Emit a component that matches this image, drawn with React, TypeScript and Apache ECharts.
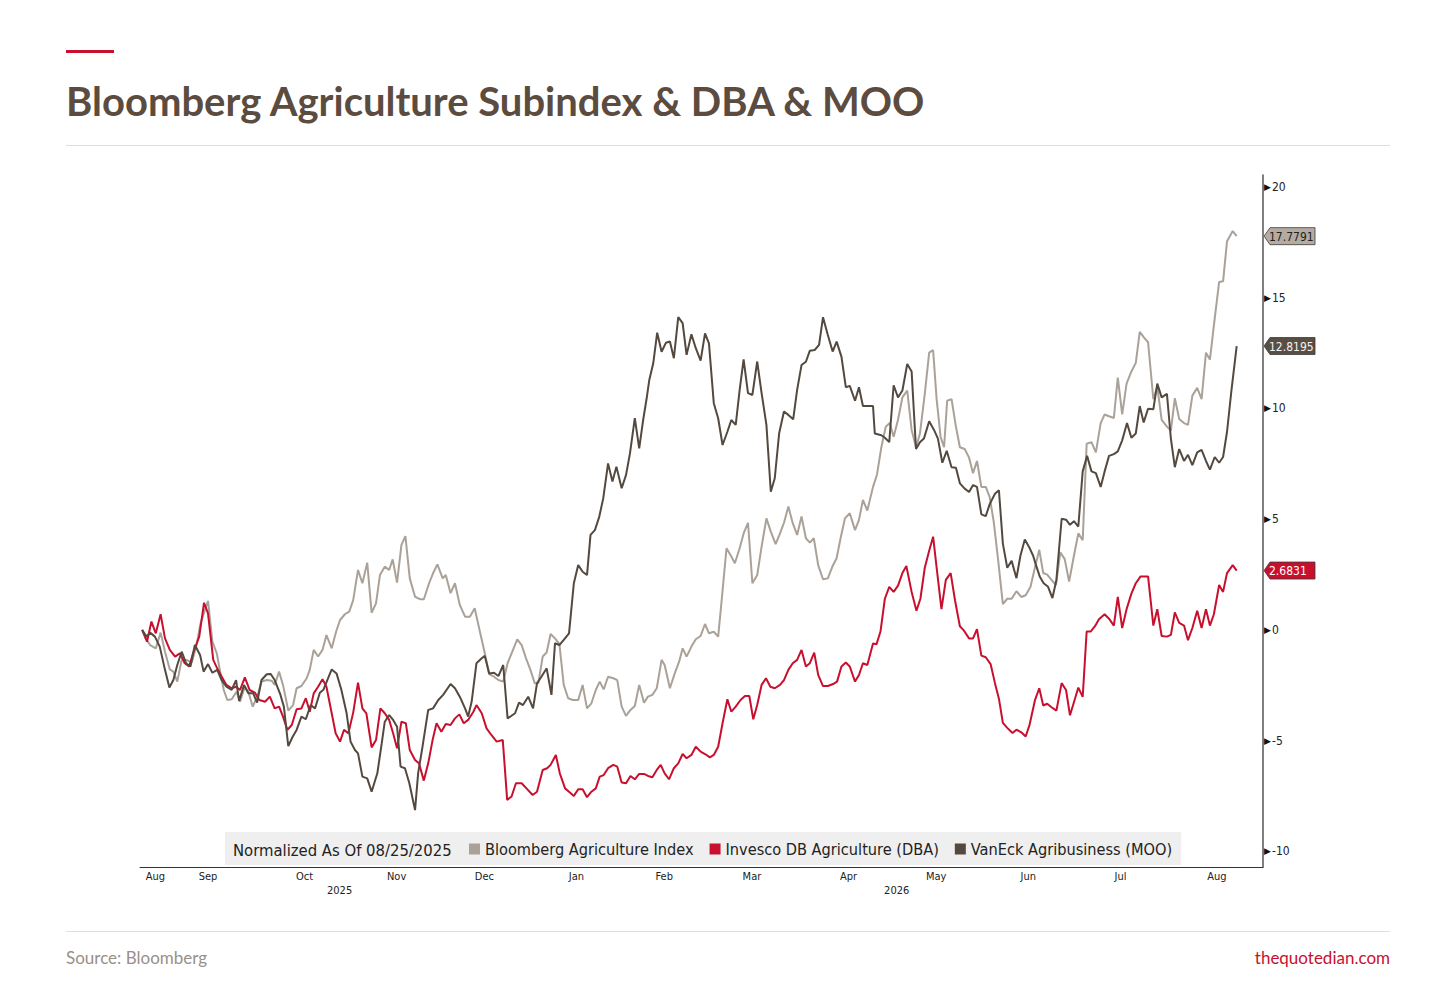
import React, { useEffect, useRef } from 'react';
import * as echarts from 'echarts';

const chartTitle = 'Bloomberg Agriculture Subindex & DBA & MOO';
const legendNote = 'Normalized As Of 08/25/2025';
const seriesNames = ['Bloomberg Agriculture Index', 'Invesco DB Agriculture (DBA)', 'VanEck Agribusiness (MOO)'];
const seriesColors = ['#aaa198', '#c8102e', '#54493f'];
const tagFills = ['#b5aba1', '#c8102e', '#5a4e44'];
const tagTexts = ['#222222', '#ffffff', '#f2f2f2'];

// x axis: trading-day index from 08/25/2025
const dayCount = 256;
const monthStarts = [5, 26, 49, 68, 90, 110, 129, 151, 172, 192, 213, 235];
const monthLabelAt = [3, 15, 37, 58, 78, 99, 119, 139, 161, 181, 202, 223, 245];
const monthLabels = ['Aug', 'Sep', 'Oct', 'Nov', 'Dec', 'Jan', 'Feb', 'Mar', 'Apr', 'May', 'Jun', 'Jul', 'Aug'];
const yearLabelAt = [45, 172];
const yearLabels = ['2025', '2026'];
const yearBreak = 90;
const yTicks = [-10, -5, 0, 5, 10, 15, 20];

// [trading day, % change]
const agri: [number, number][] = [
  [0, 0], [0.8, -0.38], [1.8, -0.68], [3.1, -0.83], [4.2, -0.12], [5.2, -0.98], [6.3, -1.78], [7.1, -1.88],
  [8, -2.33], [9, -1.35], [10.1, -1.35], [11.3, -1.47], [12.4, -0.68], [13.3, 0.3], [14.3, 0.9], [15, 1.31],
  [16, -0.53], [17, -1.05], [17.7, -1.8], [18.6, -2.71], [19.4, -3.16], [20.4, -3.13], [21.5, -2.79], [22.3, -3.24],
  [23.4, -2.56], [24.2, -2.79], [25.2, -3.46], [26.2, -3.01], [27.2, -2.33], [28.4, -2.26], [29.5, -2.29], [30.2, -2.48],
  [31.2, -1.88], [32.1, -2.48], [33.3, -3.64], [34.4, -3.39], [35.2, -2.63], [36.3, -2.53], [37.5, -2.18], [38.2, -1.8],
  [39.1, -0.9], [40.1, -1.2], [41.1, -0.9], [42, -0.23], [43.2, -0.83], [44.2, -0.08], [45.1, 0.45], [46.2, 0.71],
  [47.2, 0.83], [48.1, 1.35], [49.2, 2.71], [50.2, 2.11], [51.3, 3.04], [52.3, 0.78], [53.3, 1.2], [54.2, 2.48],
  [55.3, 2.86], [56.3, 2.71], [57.1, 3.19], [58.1, 2.14], [59.1, 3.84], [60, 4.24], [61, 2.33], [62.2, 1.5],
  [63.3, 1.39], [64.2, 1.39], [65.4, 2.11], [66.3, 2.56], [67.3, 2.96], [68.5, 2.33], [69.2, 2.48], [70.3, 1.66],
  [71.3, 2.11], [72.4, 1.13], [73.6, 0.6], [74.7, 0.6], [75.8, 0.98], [76.9, 0], [78.1, -1.05], [79.1, -1.99],
  [80.2, -2.11], [81.2, -2.26], [82.3, -2.33], [83.3, -1.5], [85.5, -0.42], [86.5, -0.68], [87.5, -1.28], [88.5, -1.8],
  [89.5, -2.41], [90.3, -2.41], [91.3, -1.2], [92.2, -1.02], [93.1, -0.18], [94.1, -0.38], [95.1, -0.63], [96.1, -2.48],
  [97.1, -3.08], [98.2, -3.16], [99.4, -3.16], [100.4, -2.48], [101.4, -3.54], [102.4, -3.31], [103.4, -2.71], [104.3, -2.33],
  [105.2, -2.68], [106.2, -2.11], [107.4, -2.18], [108.3, -2.26], [109.3, -3.46], [110.3, -3.88], [111.3, -3.61], [112.3, -3.43],
  [113.3, -2.48], [114.4, -3.28], [115.3, -3.01], [116.3, -2.93], [117.3, -2.63], [118.4, -1.35], [119.1, -1.58], [120.3, -2.63],
  [121.4, -1.96], [122.4, -1.43], [123.2, -0.83], [124.1, -1.2], [125.2, -0.75], [126.2, -0.42], [127.3, -0.27], [128.3, 0.27],
  [129.2, -0.15], [130.3, -0.08], [131.3, -0.3], [132.1, 1.35], [133.2, 3.69], [134.1, 3.39], [135.1, 3.01], [136.2, 3.69],
  [137.1, 4.36], [138.1, 4.84], [139.1, 2.11], [140.2, 2.48], [141.2, 3.76], [142.3, 5.04], [143.3, 4.44], [144.4, 3.88],
  [145.4, 4.36], [146.3, 4.84], [147.3, 5.57], [148.3, 4.82], [149.3, 4.29], [150.3, 5.12], [151.3, 4.14], [152.2, 3.94],
  [153.1, 4.14], [154.1, 2.93], [155.2, 2.29], [156.3, 2.33], [157.4, 2.89], [158.3, 3.24], [159.2, 4.14], [160.2, 5.04],
  [161.3, 5.27], [162.5, 4.51], [163.4, 4.97], [164.3, 5.87], [165.3, 5.39], [166.6, 6.46], [167.5, 7.01], [168.5, 8.25],
  [169.5, 9.18], [170.4, 9.34], [171.3, 8.72], [172.3, 9.49], [173.3, 10.5], [174.4, 10.81], [175.4, 9.03], [176.4, 8.25],
  [177.3, 8.87], [178.4, 10.66], [179.4, 12.52], [180.3, 12.63], [181.1, 10.42], [182, 8.72], [182.8, 8.25], [183.5, 10.35],
  [184.5, 10.42], [185.5, 9.18], [186.4, 8.25], [187.5, 8.17], [188.5, 7.78], [189.4, 7.08], [190.3, 7.63], [191.3, 6.46],
  [192.3, 6.46], [193.2, 6.0], [194.1, 4.91], [195.1, 3.2], [196.2, 1.17], [197.2, 1.41], [198.2, 1.41], [199.3, 1.75],
  [200.4, 1.49], [201.4, 1.57], [202.5, 1.95], [203.5, 2.81], [204.5, 3.62], [205.4, 2.57], [206.3, 2.5], [207.3, 2.26],
  [208.3, 2.03], [209.3, 3.51], [210.3, 3.2], [211.3, 2.19], [212.4, 3.35], [213.4, 4.36], [214.4, 4.05], [215.3, 8.41],
  [216.4, 8.48], [217.4, 8.02], [218.5, 9.34], [219.4, 9.73], [220.4, 9.65], [221.5, 9.57], [222.4, 11.39], [223.4, 9.73],
  [224.4, 11.12], [225.5, 11.67], [226.5, 12.06], [227.4, 13.46], [228.3, 13.22], [229.3, 12.99], [230.5, 10.42], [231.4, 10.97],
  [232.4, 9.49], [233.6, 9.18], [234.5, 9.0], [235.4, 10.46], [236.4, 9.53], [237.5, 9.34], [238.4, 9.26], [239.4, 10.58],
  [240.5, 10.93], [241.5, 10.42], [242.5, 12.52], [243.4, 12.21], [244.5, 14.08], [245.5, 15.71], [246.4, 15.74], [247.3, 17.55],
  [248.6, 18.01], [249.5, 17.7791],
];

const dba: [number, number][] = [
  [0, 0], [1.1, -0.53], [2.1, 0.38], [3.1, -0.15], [4.2, 0.71], [5.2, -0.38], [6.3, -0.9], [7.5, -1.2],
  [8.6, -1.05], [9.7, -1.5], [10.7, -1.65], [11.6, -1.05], [13, -0.3], [14.1, 1.23], [15, 0.75], [16.2, -1.35],
  [17.1, -1.73], [18.1, -2.1], [19.2, -2.48], [20.4, -2.63], [21.4, -2.56], [22.3, -2.71], [23.4, -2.14], [24.5, -2.71],
  [25.7, -2.83], [26.7, -3.16], [28, -3.24], [29.1, -3.01], [30.2, -3.54], [31.2, -3.46], [32.1, -3.91], [33.1, -4.51],
  [34.1, -4.29], [35.2, -3.58], [36.3, -3.54], [37.3, -3.08], [38.2, -3.69], [39.1, -2.86], [40.1, -2.56], [41.1, -2.22],
  [42, -2.56], [43.2, -3.76], [44.1, -4.66], [45.1, -5.04], [46, -4.51], [47, -4.66], [48.1, -3.73], [49.2, -2.38],
  [50.2, -3.54], [51.1, -3.76], [52.3, -5.3], [53.3, -4.97], [54.3, -3.54], [55.3, -3.76], [56.3, -4.06], [57.2, -4.66],
  [58.1, -5.34], [59.1, -4.14], [60.1, -4.21], [61, -5.42], [62.2, -5.87], [63.1, -6.02], [64.2, -6.8], [65.2, -6.02],
  [66.2, -4.97], [67.1, -4.21], [68.2, -4.59], [69.2, -4.24], [70.3, -4.29], [71.3, -3.99], [72.3, -3.81], [73.3, -4.21],
  [74.3, -4.06], [75.5, -3.69], [76.2, -3.39], [77.4, -3.76], [78.5, -4.44], [79.6, -4.74], [80.8, -5.04], [82.2, -4.97],
  [83.2, -7.67], [84.2, -7.52], [85.2, -6.92], [86.5, -6.92], [87.6, -7.15], [89, -7.45], [90, -7.3], [91.3, -6.32],
  [92.3, -6.24], [93.1, -6.09], [94.3, -5.64], [95.2, -6.47], [96.4, -7.15], [97.3, -7.3], [98.4, -7.49], [99.4, -7.19],
  [100.4, -7.19], [101.4, -7.55], [102.4, -7.3], [103.4, -7.15], [104.3, -6.62], [105.2, -6.55], [106.2, -6.24], [107.4, -6.09],
  [108.3, -6.17], [109.3, -6.89], [110.3, -6.92], [111.3, -6.59], [112.3, -6.74], [113.3, -6.5], [114.4, -6.5], [115.3, -6.59],
  [116.3, -6.65], [117.3, -6.32], [118.2, -6.09], [119.1, -6.47], [120.1, -6.74], [121.2, -6.24], [122.2, -6.02], [123.2, -5.6],
  [124.1, -5.79], [125.2, -5.64], [126.2, -5.27], [127.3, -5.49], [128.3, -5.6], [129.4, -5.75], [130.3, -5.64], [131.3, -5.27],
  [132.3, -4.21], [133.4, -3.13], [134.3, -3.69], [135.3, -3.46], [136.4, -3.16], [137.4, -2.98], [138.4, -2.98], [139.3, -4.03],
  [140.2, -3.39], [141.2, -2.48], [142.2, -2.18], [143.2, -2.56], [144.2, -2.63], [145.4, -2.48], [146.3, -2.26], [147.3, -1.8],
  [148.3, -1.5], [149.3, -1.35], [150.3, -0.9], [151.3, -1.65], [152.2, -1.5], [153.2, -1.02], [154.1, -2.03], [155.2, -2.53],
  [156.3, -2.53], [157.5, -2.44], [158.4, -2.33], [159.4, -1.65], [160.4, -1.47], [161.3, -1.65], [162.5, -2.33], [163.4, -2.03],
  [164.3, -1.5], [165.3, -1.58], [166.6, -0.61], [167.4, -0.64], [168.3, -0.07], [169.3, 1.41], [170.3, 1.95], [171.3, 1.72],
  [172.3, 2.0], [173.3, 2.57], [174.2, 2.89], [175.4, 1.72], [176.5, 0.87], [177.4, 1.41], [178.4, 2.81], [179.4, 3.58],
  [180.3, 4.21], [181.2, 2.65], [182.2, 0.94], [183.2, 2.26], [184.3, 2.57], [185.3, 1.33], [186.4, 0.17], [187.3, -0.02],
  [188.5, -0.38], [189.4, -0.38], [190.3, 0.04], [191.3, -1.16], [192.3, -1.23], [193.4, -1.54], [194.4, -2.4], [195.3, -3.1],
  [196.2, -4.19], [197.2, -4.42], [198.4, -4.65], [199.3, -4.5], [200.4, -4.62], [201.4, -4.81], [202.3, -4.27], [203.5, -3.18],
  [204.5, -2.63], [205.4, -3.41], [206.3, -3.33], [207.3, -3.49], [208.4, -3.64], [209.6, -2.4], [210.6, -2.71], [211.5, -3.85],
  [212.4, -3.26], [213.4, -2.6], [214.4, -3.02], [215.3, -0.07], [216.2, -0.07], [217.2, 0.17], [218.1, 0.48], [219.4, 0.71],
  [220.4, 0.51], [221.5, 0.2], [222.4, 1.49], [223.4, 0.09], [224.4, 0.94], [225.5, 1.64], [226.5, 2.11], [227.6, 2.42],
  [229.3, 2.42], [230.5, 0.2], [231.4, 0.94], [232.4, -0.27], [233.6, -0.3], [234.5, -0.22], [235.4, 0.79], [236.4, 0.32],
  [237.5, 0.2], [238.4, -0.46], [239.4, 0.09], [240.5, 0.87], [241.5, 0.09], [242.5, 0.94], [243.4, 0.2], [244.3, 0.71],
  [245.5, 2.03], [246.4, 1.72], [247.3, 2.57], [248.6, 2.93], [249.5, 2.6831],
];

const moo: [number, number][] = [
  [0, 0], [1, -0.3], [1.8, -0.12], [2.9, -0.3], [4, -0.75], [5.2, -1.8], [6.2, -2.6], [7.1, -2.26],
  [8, -1.58], [9, -0.98], [10, -1.5], [11, -1.65], [12, -0.68], [13.2, -1.13], [14, -1.88], [15, -1.54],
  [16, -1.93], [17.1, -1.8], [18.1, -2.26], [19.2, -2.56], [20.4, -2.7], [21.4, -2.26], [22.1, -3.2], [23.2, -2.48],
  [24.2, -2.86], [25.3, -2.86], [26.2, -3.28], [27.2, -2.26], [28.4, -2.0], [29.3, -1.99], [30.2, -2.26], [31.4, -2.86],
  [32.3, -3.46], [33.3, -5.24], [34.3, -4.82], [35.2, -4.51], [36.3, -3.91], [37.3, -4.03], [38.4, -3.39], [39.4, -3.54],
  [40.5, -2.83], [41.3, -2.7], [42.2, -2.26], [43.2, -1.78], [44.3, -1.96], [45.4, -2.7], [46.6, -3.76], [47.5, -5.04],
  [48.5, -5.42], [49.2, -5.57], [50.2, -6.62], [51.3, -6.7], [52.3, -7.3], [53.6, -6.47], [54.6, -5.12], [55.3, -4.14],
  [56.3, -3.84], [57.2, -4.06], [58.1, -4.37], [58.9, -6.17], [59.9, -6.24], [60.9, -6.92], [62.2, -8.13], [62.9, -6.47],
  [63.9, -5.27], [65.2, -3.61], [66.3, -3.54], [67.5, -3.16], [68.6, -2.93], [70.3, -2.44], [71.3, -2.63], [72.4, -3.01],
  [73.6, -3.54], [74.3, -3.91], [75.1, -3.24], [76.2, -1.5], [77.4, -1.28], [78.1, -1.17], [79.1, -1.96], [80.2, -1.93],
  [81.2, -2.08], [82.3, -1.58], [83.3, -3.99], [85, -3.76], [85.9, -3.28], [86.8, -3.39], [88, -3.01], [89.1, -3.54],
  [90, -2.41], [91, -2.11], [92.2, -1.73], [93.3, -2.93], [94.1, -0.6], [95.1, -0.68], [96.1, -0.45], [97.3, -0.15],
  [98.4, 2.11], [99.4, 2.93], [100.4, 2.63], [101.4, 2.48], [102.2, 4.29], [103.2, 4.51], [104.2, 5.12], [105.1, 5.94],
  [106.2, 7.52], [107.2, 6.7], [108.1, 7.37], [109.3, 6.4], [110.3, 7.0], [111.2, 7.98], [112.3, 9.56], [113.3, 8.2],
  [114.2, 9.48], [115, 10.46], [115.6, 11.29], [116.5, 12.04], [117.4, 13.42], [118.4, 12.56], [119.4, 12.97], [120.3, 13.02],
  [121.2, 12.27], [122.2, 14.12], [123.2, 13.85], [124.1, 12.42], [125.2, 13.35], [126.2, 12.72], [127.3, 12.16], [128.3, 13.39],
  [129.2, 12.94], [130.3, 10.24], [131.3, 9.56], [132.3, 8.35], [133.4, 8.95], [134.3, 9.48], [135.3, 9.26], [136.2, 10.84],
  [137.1, 12.22], [138.1, 10.69], [139.1, 10.61], [140.2, 12.12], [141.2, 10.69], [142.3, 9.26], [143.3, 6.24], [144.2, 6.85],
  [145.2, 8.88], [146.3, 9.86], [147.3, 9.71], [148.4, 9.51], [149.3, 10.84], [150.3, 11.96], [151.3, 12.11], [152.2, 12.61],
  [153.3, 12.64], [154.3, 12.87], [155.2, 14.12], [156.3, 13.32], [157.4, 12.57], [158.3, 13.02], [159.4, 12.34], [160.4, 10.96],
  [161.3, 11.02], [162.5, 10.35], [163.4, 10.96], [164.3, 10.11], [165.3, 10.11], [166.6, 10.11], [167, 8.87], [168.5, 8.79],
  [169.3, 8.68], [170.3, 8.48], [171.3, 11.05], [172.3, 10.5], [173.3, 10.81], [174.4, 12.01], [175.4, 11.67], [176.4, 8.17],
  [177.3, 8.48], [178.2, 8.64], [179.4, 9.42], [180.5, 9.03], [181.4, 8.64], [182.4, 7.55], [183.4, 8.09], [184.5, 7.35],
  [185.5, 7.32], [186.4, 6.62], [187.5, 6.38], [188.5, 6.23], [189.4, 6.54], [190.3, 6.46], [191.3, 5.22], [192.3, 5.14],
  [193.2, 5.68], [194.4, 6.15], [195.3, 6.31], [196.2, 3.9], [197.2, 2.81], [198.2, 3.12], [199.3, 2.34], [200.2, 3.35],
  [201.2, 4.08], [202.2, 3.74], [203.1, 3.35], [203.7, 2.96], [204.6, 2.42], [205.5, 2.11], [206.5, 1.95], [207.5, 1.44],
  [208.4, 2.26], [209.6, 5.02], [210.6, 4.98], [211.5, 4.75], [212.4, 4.91], [213.4, 4.67], [214.4, 7.16], [215.4, 7.86],
  [216.4, 7.16], [217.4, 7.08], [218.5, 6.46], [219.4, 7.16], [220.4, 7.86], [221.5, 7.94], [222.4, 8.06], [223.4, 8.56],
  [224.5, 9.34], [225.5, 8.68], [226.5, 8.87], [227.4, 10.11], [228.3, 9.37], [229.3, 9.99], [230.5, 9.96], [231.4, 11.12],
  [232.4, 10.5], [233.6, 10.66], [234.5, 8.64], [235.4, 7.35], [236.4, 8.17], [237.5, 7.63], [238.4, 7.91], [239.4, 7.44],
  [240.5, 8.02], [241.5, 8.13], [242.5, 7.63], [243.4, 7.24], [244.5, 7.81], [245.5, 7.55], [246.4, 7.81], [247.3, 8.95],
  [248.3, 10.81], [249.5, 12.8195],
];

const seriesData = [agri, dba, moo];
const font = "'DejaVu Sans Condensed', 'DejaVu Sans', sans-serif";

export default function App() {
  const ref = useRef<HTMLDivElement>(null);

  useEffect(() => {
    const chart = echarts.init(ref.current as HTMLDivElement, undefined, { renderer: 'svg' });
    const days = Array.from({ length: dayCount }, (_, i) => String(i));

    const baseGraphic: any[] = [
      { type: 'rect', shape: { x: 66, y: 50, width: 48, height: 3 }, style: { fill: '#c8102e' } },
      { type: 'line', shape: { x1: 66, y1: 145.5, x2: 1390, y2: 145.5 }, style: { stroke: '#dedede', lineWidth: 1 } },
      { type: 'line', shape: { x1: 66, y1: 931.5, x2: 1390, y2: 931.5 }, style: { stroke: '#dedede', lineWidth: 1 } },
      {
        type: 'text', x: 66, y: 957,
        style: { text: 'Source: Bloomberg', fill: '#9a9088', fontSize: 17, fontFamily: 'Lato', verticalAlign: 'middle' },
      },
      {
        type: 'text', x: 1390, y: 957,
        style: { text: 'thequotedian.com', fill: '#c8102e', fontSize: 17, fontFamily: 'Lato', align: 'right', verticalAlign: 'middle' },
      },
      {
        type: 'text', x: 233, y: 850, z: 100,
        style: { text: legendNote, fill: '#222', fontSize: 16.5, fontFamily: font, verticalAlign: 'middle' },
      },
    ];

    chart.setOption({
      animation: false,
      backgroundColor: '#ffffff',
      title: {
        text: chartTitle,
        left: 66,
        top: 81,
        padding: 0,
        textStyle: { fontFamily: 'Lato', fontWeight: 'bold', fontSize: 40, color: '#5b4c3f' },
      },
      grid: { left: 140, right: 193, top: 175, bottom: 123 },
      xAxis: [
        { type: 'value', min: -0.5, max: 255.5, show: false, axisLine: { onZero: false } },
        {
          type: 'category',
          data: days,
          boundaryGap: true,
          position: 'bottom',
          axisLine: { onZero: false, lineStyle: { color: '#333', width: 1 } },
          axisTick: { interval: (i: number) => monthStarts.includes(i), length: 4, lineStyle: { color: '#333' } },
          axisLabel: {
            interval: (i: number) => monthLabelAt.includes(i),
            formatter: (_v: string, i: number) => monthLabels[monthLabelAt.indexOf(i)] ?? '',
            fontSize: 11,
            color: '#222',
            margin: 4,
            fontFamily: font,
          },
          splitLine: { show: false },
        },
        {
          type: 'category',
          data: days,
          boundaryGap: true,
          position: 'bottom',
          offset: 16,
          axisLine: { show: false, onZero: false },
          axisTick: { interval: (i: number) => i === yearBreak, length: 14, lineStyle: { color: '#999' } },
          axisLabel: {
            interval: (i: number) => yearLabelAt.includes(i),
            formatter: (_v: string, i: number) => yearLabels[yearLabelAt.indexOf(i)] ?? '',
            fontSize: 11,
            color: '#222',
            margin: 2,
            fontFamily: font,
          },
          splitLine: { show: false },
        },
      ],
      yAxis: {
        type: 'value',
        position: 'right',
        min: -10.7,
        max: 20.54,
        splitNumber: 6,
        axisLine: { show: true, onZero: false, lineStyle: { color: '#555', width: 1.5 } },
        axisTick: { show: false },
        splitLine: { show: false },
        axisLabel: {
          margin: 1,
          formatter: (v: number) => (yTicks.includes(Math.round(v * 100) / 100) ? `{t|▶}{n|${v}}` : ''),
          rich: {
            t: { fontSize: 9, color: '#111', padding: [0, 1, 0, 0] },
            n: { fontSize: 12, color: '#222', fontFamily: font },
          },
        },
      },
      legend: {
        data: seriesNames.map((name) => ({ name, icon: 'rect' })),
        left: 225,
        top: 832,
        padding: [9, 9, 8, 244],
        itemGap: 16,
        itemWidth: 11,
        itemHeight: 11,
        backgroundColor: '#efefef',
        selectedMode: false,
        textStyle: { fontSize: 16.2, color: '#222', fontFamily: font },
      },
      series: seriesNames.map((name, k) => ({
        name,
        type: 'line',
        xAxisIndex: 0,
        yAxisIndex: 0,
        data: seriesData[k],
        symbol: 'none',
        showSymbol: false,
        lineStyle: { width: 2, color: seriesColors[k] },
        itemStyle: { color: seriesColors[k] },
        z: 2 + k,
      })),
      graphic: baseGraphic,
    });

    // value tags on the right axis, placed with the chart's own scales
    const tagX = chart.convertToPixel({ xAxisIndex: 0 }, 255.5) as number;
    const tags = seriesData.map((d, k) => {
      const v = d[d.length - 1][1];
      const y = chart.convertToPixel({ yAxisIndex: 0 }, v) as number;
      return {
        type: 'group',
        x: tagX,
        y,
        z: 50,
        children: [
          {
            type: 'polygon',
            shape: { points: [[1, 0], [7, -8.5], [52, -8.5], [52, 8.5], [7, 8.5]] },
            style: { fill: tagFills[k], stroke: '#3a3a3a', lineWidth: 0.8 },
          },
          {
            type: 'text',
            x: 6,
            y: 0.5,
            style: { text: String(v), fill: tagTexts[k], fontSize: 12, fontFamily: font, verticalAlign: 'middle' },
          },
        ],
      };
    });
    chart.setOption({ graphic: [...baseGraphic, ...tags] });

    return () => chart.dispose();
  }, []);

  return <div ref={ref} style={{ position: 'absolute', left: 0, top: 0, width: 1456, height: 990 }} />;
}
